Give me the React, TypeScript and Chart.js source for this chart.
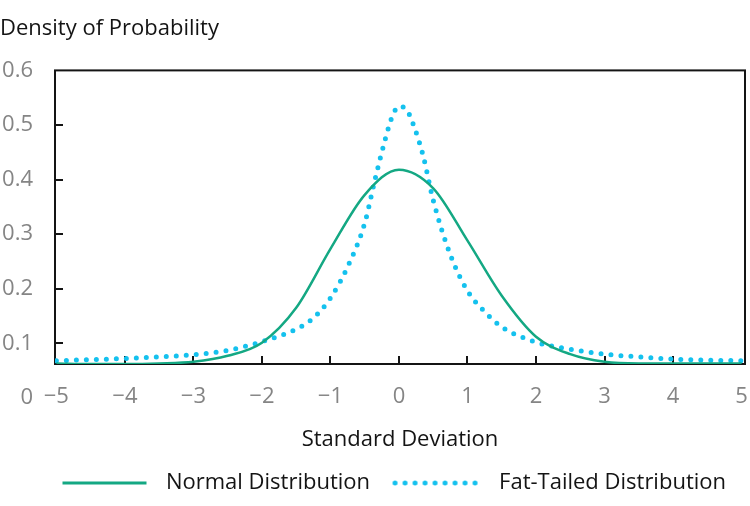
import React, { useEffect, useRef } from 'react';
import { Chart, registerables } from 'chart.js';

Chart.register(...registerables);

// ---- data ----
const normalX = [-5, -4.5, -4, -3.5, -3, -2.5, -2, -1.5, -1, -0.5, 0, 0.5, 1, 1.5, 2, 2.5, 3, 3.5, 4, 4.5, 5];
const normalY = [0.063, 0.062, 0.062, 0.063, 0.066, 0.077, 0.101, 0.165, 0.273, 0.372, 0.418, 0.384, 0.288, 0.187, 0.112, 0.08, 0.066, 0.063, 0.063, 0.063, 0.063];

const fatX = [-5, -4.5, -4, -3.5, -3, -2.5, -2, -1.5, -1.25, -1, -0.75, -0.5, -0.35, -0.2, -0.1, 0, 0.1, 0.2, 0.35, 0.5, 0.75, 1, 1.25, 1.5, 2, 2.5, 3, 3.5, 4, 4.5, 5];
const fatY = [0.068, 0.07, 0.072, 0.075, 0.079, 0.087, 0.103, 0.126, 0.146, 0.183, 0.24, 0.32, 0.4, 0.474, 0.515, 0.534, 0.53, 0.504, 0.445, 0.362, 0.262, 0.196, 0.158, 0.13, 0.102, 0.089, 0.08, 0.075, 0.071, 0.069, 0.068];

const seriesLabels = ['Normal Distribution', 'Fat-Tailed Distribution'];
const xTicks = [-5, -4, -3, -2, -1, 0, 1, 2, 3, 4, 5];
const yTicks = [0.1, 0.2, 0.3, 0.4, 0.5, 0.6];
const yZeroLabel = '0';
const xTitle = 'Standard Deviation';
const yTitle = 'Density of Probability';

const GREEN = '#14a883';
const BLUE = '#14c1ee';
const GRAY = '#858585';
const INK = '#141414';
const FONT = "'Open Sans', sans-serif";
const FS = 22;
const Y_PAD = 22;
const MARKER_BOX = 99;

function makeMarker(color: string, dotted: boolean, start: number): HTMLCanvasElement {
  const c = document.createElement('canvas');
  c.width = 120;
  c.height = 10;
  const ctx = c.getContext('2d')!;
  ctx.strokeStyle = color;
  ctx.beginPath();
  if (dotted) {
    ctx.lineWidth = 5;
    ctx.lineCap = 'round';
    ctx.setLineDash([0, 10]);
    ctx.moveTo(start + 2.5, 5);
    ctx.lineTo(start + 83.5, 5);
  } else {
    ctx.lineWidth = 3;
    ctx.moveTo(start, 5);
    ctx.lineTo(start + 84, 5);
  }
  ctx.stroke();
  return c;
}

const framePlugin = {
  id: 'frame',
  beforeDatasetsDraw(chart: any) {
    const { ctx, chartArea: a, scales } = chart;
    ctx.save();
    ctx.strokeStyle = INK;
    ctx.lineWidth = 2;
    ctx.strokeRect(a.left, a.top, a.right - a.left, a.bottom - a.top);
    ctx.beginPath();
    xTicks.slice(1, -1).forEach((v) => {
      const px = Math.round(scales.x.getPixelForValue(v));
      ctx.moveTo(px, a.bottom);
      ctx.lineTo(px, a.bottom - 8);
    });
    yTicks.slice(0, -1).forEach((v) => {
      const py = Math.round(scales.y.getPixelForValue(v));
      ctx.moveTo(a.left, py);
      ctx.lineTo(a.left + 8, py);
    });
    ctx.stroke();
    ctx.restore();
  },
  afterDraw(chart: any) {
    const { ctx, scales } = chart;
    ctx.save();
    ctx.font = `${FS}px ${FONT}`;
    ctx.fillStyle = GRAY;
    ctx.textAlign = 'right';
    ctx.textBaseline = 'middle';
    ctx.fillText(yZeroLabel, scales.y.right - Y_PAD, scales.y.getPixelForValue(0));
    ctx.restore();
  },
};

export default function App() {
  const ref = useRef<HTMLCanvasElement>(null);

  useEffect(() => {
    if (!ref.current) return;
    Chart.defaults.font.family = FONT;
    const markers = [makeMarker(GREEN, false, 17), makeMarker(BLUE, true, 14)];
    const chart = new Chart(ref.current, {
      type: 'line',
      data: {
        datasets: [
          {
            label: seriesLabels[0],
            data: normalX.map((x, i) => ({ x, y: normalY[i] })),
            borderColor: GREEN,
            borderWidth: 2.5,
            pointRadius: 0,
            fill: false,
            cubicInterpolationMode: 'monotone',
          },
          {
            label: seriesLabels[1],
            data: fatX.map((x, i) => ({ x, y: fatY[i] })),
            borderColor: BLUE,
            borderWidth: 5,
            borderDash: [0, 10],
            borderCapStyle: 'round',
            pointRadius: 0,
            fill: false,
            cubicInterpolationMode: 'monotone',
          },
        ],
      },
      options: {
        animation: false,
        responsive: false,
        maintainAspectRatio: false,
        layout: { padding: { bottom: 2, right: 5 } },
        scales: {
          x: {
            type: 'linear',
            min: -5.02,
            max: 5.05,
            afterBuildTicks: (s: any) => {
              s.ticks = xTicks.map((v) => ({ value: v }));
            },
            afterFit: (s: any) => {
              s.height = 89;
              s.paddingLeft = 0;
              s.paddingRight = 0;
            },
            grid: { display: false, drawTicks: false },
            border: { display: false },
            ticks: {
              color: GRAY,
              font: { size: FS },
              padding: 20,
              maxRotation: 0,
              autoSkip: false,
              callback: (v: any) => (Number(v) < 0 ? '\u2212' + Math.abs(Number(v)) : String(v)),
            },
            title: {
              display: true,
              text: xTitle,
              color: INK,
              font: { size: FS },
              padding: { top: 16, bottom: 0 },
            },
          },
          y: {
            type: 'linear',
            min: 0.062,
            max: 0.6,
            afterBuildTicks: (s: any) => {
              s.ticks = yTicks.map((v) => ({ value: v }));
            },
            afterFit: (s: any) => {
              s.width = 55;
            },
            grid: { display: false, drawTicks: false },
            border: { display: false },
            ticks: {
              color: GRAY,
              font: { size: FS },
              padding: Y_PAD,
              callback: (v: any) => Number(v).toFixed(1),
            },
          },
        },
        plugins: {
          title: {
            display: true,
            text: yTitle,
            align: 'start',
            color: INK,
            font: { size: FS, weight: 'normal' },
            padding: { top: 16, bottom: 28 },
          },
          legend: {
            position: 'bottom',
            align: 'end',
            labels: {
              usePointStyle: true,
              pointStyleWidth: MARKER_BOX,
              padding: 19,
              color: INK,
              font: { size: FS },
              generateLabels: (c: any) =>
                c.data.datasets.map((ds: any, i: number) => ({
                  text: ds.label,
                  pointStyle: markers[i],
                  fillStyle: 'transparent',
                  strokeStyle: 'transparent',
                  lineWidth: 0,
                  hidden: false,
                  datasetIndex: i,
                  fontColor: INK,
                })),
            },
          },
          tooltip: { enabled: false },
        },
      } as any,
      plugins: [framePlugin],
    });
    return () => chart.destroy();
  }, []);

  return (
    <div style={{ position: 'absolute', left: 0, top: 0, width: 750, height: 506 }}>
      <canvas ref={ref} width={750} height={506} style={{ width: 750, height: 506, display: 'block' }} />
    </div>
  );
}
